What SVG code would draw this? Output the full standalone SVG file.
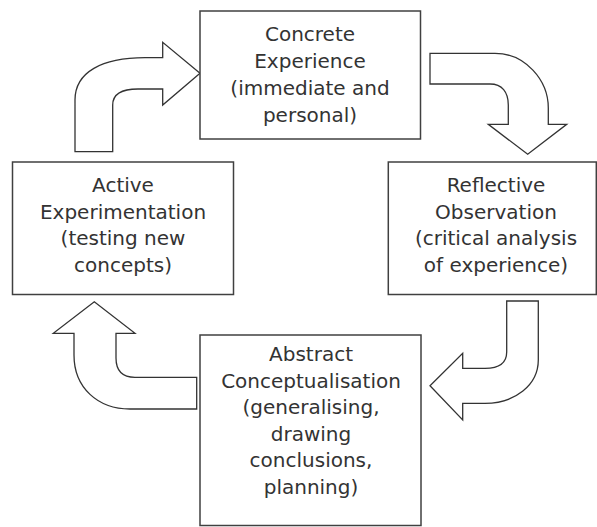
<svg xmlns="http://www.w3.org/2000/svg" width="597" height="527" viewBox="0 0 597 527">
<style>
.box{fill:#ffffff;stroke:#404040;stroke-width:1.5}
.arr{fill:#ffffff;stroke:#333333;stroke-width:1.3;stroke-linejoin:miter}
.t{font-family:"DejaVu Sans","Liberation Sans",sans-serif;font-size:20px;fill:#333333;text-anchor:middle}
</style>
<rect width="597" height="527" fill="#ffffff"/>
<g id="connectors">
<path class="arr" d="M75,151.7 L75,100 C75,72 102,57.7 145,57.7 L162.7,57.7 L162.7,42.3 L200,73.3 L162.7,105 L162.7,89 L138,89 C122,89 112.7,94 112.7,105 L112.7,151.7 Z"/>
<path class="arr" d="M430,53.3 L495,53.3 C525,53.3 548.3,80 548.3,108 L548.3,124.3 L566.7,124.3 L527.7,154.3 L488.3,124.3 L508.3,124.3 L508.3,105 C508.3,92 502,84 490,84 L430,84 Z"/>
<path class="arr" d="M506.7,301 L538.3,301 L538.3,360 C538.3,385 515,403.3 485,403.3 L462.7,403.3 L462.7,420 L430,385.7 L462.7,353.3 L462.7,368.3 L485,368.3 C500,368.3 506.7,362 506.7,352 Z"/>
<path class="arr" d="M196.7,377.3 L135,377.3 C122,377.3 116,370 116,358 L116,333.3 L135,333.3 L94.3,301.7 L53.3,333.3 L74,333.3 L74,355 C74,388 98,409 130,409 L196.7,409 Z"/>
</g>
<g id="concrete">
<rect class="box" x="200" y="11" width="220.5" height="128"/>
<text class="t" x="310" y="41">Concrete</text>
<text class="t" x="310" y="68">Experience</text>
<text class="t" x="310" y="95">(immediate and</text>
<text class="t" x="310" y="122">personal)</text>
</g>
<g id="reflective">
<rect class="box" x="388.3" y="162" width="208" height="132.5"/>
<text class="t" x="496" y="192">Reflective</text>
<text class="t" x="496" y="218.5">Observation</text>
<text class="t" x="496" y="245">(critical analysis</text>
<text class="t" x="496" y="271.5">of experience)</text>
</g>
<g id="abstract">
<rect class="box" x="200" y="335" width="221" height="190.5"/>
<text class="t" x="311" y="361">Abstract</text>
<text class="t" x="311" y="387.5">Conceptualisation</text>
<text class="t" x="311" y="414">(generalising,</text>
<text class="t" x="311" y="440.5">drawing</text>
<text class="t" x="311" y="467">conclusions,</text>
<text class="t" x="311" y="493.5">planning)</text>
</g>
<g id="active">
<rect class="box" x="12.5" y="162" width="221" height="132.5"/>
<text class="t" x="123" y="192">Active</text>
<text class="t" x="123" y="218.5">Experimentation</text>
<text class="t" x="123" y="245">(testing new</text>
<text class="t" x="123" y="271.5">concepts)</text>
</g>
</svg>
